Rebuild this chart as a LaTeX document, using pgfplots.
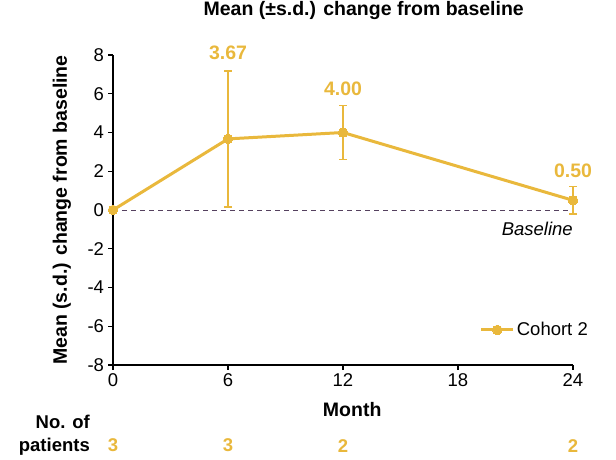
\documentclass[border=0pt]{standalone}
\usepackage{fontspec}
\setmainfont{Liberation Sans}
\usepackage{pgfplots}
\pgfplotsset{compat=1.18}
\usepackage{pgfplotstable}
\definecolor{gold}{RGB}{233,184,60}
\definecolor{baseln}{RGB}{85,65,95}
\newcommand{\fs}{\fontsize{18.5}{22}\selectfont}
\newcommand{\fb}{\fontsize{19.5}{23}\selectfont}

\pgfplotstableread{
x y ey
0 0 0
6 3.67 3.51
12 4.00 1.41
24 0.50 0.71
}\cohort

\pgfplotstableread{
x y lab
6 8.09 3.67
12 6.24 4.00
24 2.01 0.50
}\vlabels

\pgfplotstableread{
x y lab
0 -12.16 3
6 -12.16 3
12 -12.16 2
24 -12.16 2
}\npat

\begin{document}
\begin{tikzpicture}
\useasboundingbox (0pt,0pt) rectangle (616pt,-459pt);
\begin{axis}[
  at={(113pt,-365pt)}, anchor=south west,
  width=460pt, height=310pt, scale only axis,
  xmin=0, xmax=24, ymin=-8, ymax=8,
  axis x line=bottom, axis y line=left,
  axis line style={-, line width=1.8pt, black},
  xtick={0,6,12,18,24}, ytick={-8,-6,...,8},
  tick align=outside, major tick length=4.5pt,
  tick style={line width=1.3pt, black},
  ticklabel style={font=\fs},
  xticklabel style={yshift=-1pt},
  yticklabel style={xshift=-1pt},
  /pgf/number format/assume math mode=true,
  clip=false,
  title={Mean (±s.d.) change from baseline},
  title style={at={(0.545,1.1226)}, anchor=center, font=\bfseries\fb},
  ylabel={Mean (s.d.) change from baseline},
  ylabel style={at={(-0.111,0.5)}, anchor=center, font=\bfseries\fb},
  xlabel={Month},
  xlabel style={at={(0.52,-0.145)}, anchor=center, font=\bfseries\fb},
  legend style={draw=none, fill=none, at={(1.037,0.113)}, anchor=east, font=\fs, inner sep=0pt},
  legend image code/.code={\draw[mark repeat=2, mark phase=2, #1] plot coordinates {(0pt,0pt) (16pt,0pt) (32pt,0pt)};},
]
\addplot[baseln, line width=0.8pt, dash pattern=on 5pt off 4pt, forget plot] coordinates {(0,0) (24,0)};

\addplot[gold, line width=3pt, mark=*, mark size=4.8pt,
  mark options={solid, fill=gold, draw=gold, line width=0pt},
  error bars/.cd, y dir=both, y explicit,
  error bar style={line width=1.3pt, gold},
  error mark options={rotate=90, mark size=4pt, line width=1.3pt, gold}]
  table[x=x, y=y, y error=ey]{\cohort};
\addlegendentry{Cohort 2}

\addplot[draw=none, mark=none, forget plot, nodes near coords, point meta=explicit symbolic,
  every node near coord/.append style={anchor=center, text=gold, font=\bfseries\fb}]
  table[x=x, y=y, meta=lab]{\vlabels};

\addplot[draw=none, mark=none, forget plot, nodes near coords, point meta=explicit symbolic,
  every node near coord/.append style={anchor=center, text=gold, font=\bfseries\fs}]
  table[x=x, y=y, meta=lab]{\npat};

\node[anchor=east, font=\itshape\fs, inner sep=0pt] at (axis cs:24,-0.98) {Baseline};
\node[anchor=east, align=right, font=\bfseries\fontsize{18.5}{23}\selectfont, inner sep=0pt] at (rel axis cs:-0.05,-0.2274) {No. of\\patients};
\end{axis}
\end{tikzpicture}
\end{document}
